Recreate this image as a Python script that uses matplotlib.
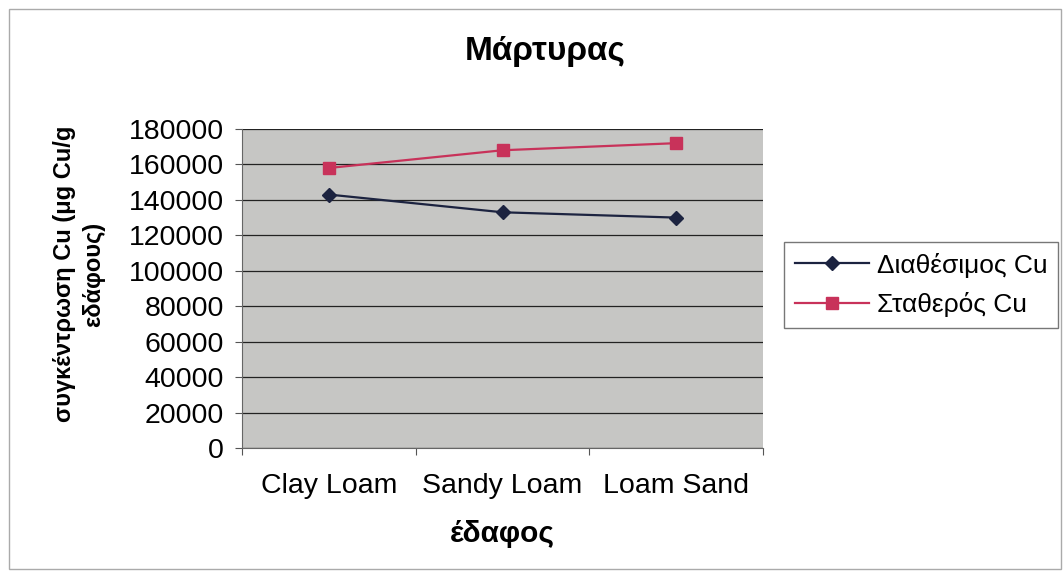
import matplotlib
matplotlib.use("Agg")
import matplotlib.pyplot as plt
from matplotlib.patches import Rectangle

plt.rcParams['font.family'] = ['Liberation Sans', 'DejaVu Sans']

# data
soil_types = ["Clay Loam", "Sandy Loam", "Loam Sand"]
available_cu = [143000, 133000, 130000]
stable_cu = [158000, 168000, 172000]
y_ticks = [0, 20000, 40000, 60000, 80000, 100000, 120000, 140000, 160000, 180000]

fig = plt.figure(figsize=(10.63, 5.72), dpi=100)
ax = fig.add_axes([0.2277, 0.2168, 0.4901, 0.5577])
ax.set_facecolor("#c6c6c4")

x = [i + 0.5 for i in range(len(soil_types))]
ax.plot(x, available_cu, color="#1c2340", marker="D", markersize=7, lw=1.6,
        label="Διαθέσιμος Cu")
ax.plot(x, stable_cu, color="#c8325a", marker="s", markersize=8, lw=1.6,
        label="Σταθερός Cu")

ax.set_xlim(0, 3)
ax.set_ylim(0, 180000)
ax.set_yticks(y_ticks)
ax.set_yticklabels([str(v) for v in y_ticks], fontsize=20.5)
ax.set_xticks([0, 1, 2, 3])
ax.set_xticklabels([])
ax.set_xticks(x, minor=True)
ax.set_xticklabels(soil_types, minor=True, fontsize=20.5)
ax.tick_params(axis="x", which="minor", length=0, pad=18)
ax.tick_params(axis="x", which="major", length=5, color="#555555")
ax.tick_params(axis="y", length=5, color="#555555", pad=8)
ax.grid(axis="y", color="#222222", lw=0.9)
ax.set_axisbelow(True)
for s in ["top", "right"]:
    ax.spines[s].set_visible(False)
for s in ["left", "bottom"]:
    ax.spines[s].set_color("#666666")

ax.set_xlabel("έδαφος", fontsize=21.5, fontweight="bold", labelpad=15)
ax.set_ylabel("συγκέντρωση Cu (μg Cu/g\nεδάφους)", fontsize=17,
              fontweight="bold", linespacing=1.35)
ax.yaxis.set_label_coords(-0.263, 0.545)
fig.text(0.513, 0.91, "Μάρτυρας", ha="center", va="center",
         fontsize=24, fontweight="bold")

leg = fig.legend(loc="center left", bbox_to_anchor=(0.738, 0.502),
                 fontsize=19, frameon=True, fancybox=False,
                 handlelength=2.8, handletextpad=0.3, borderpad=0.4,
                 borderaxespad=0.0, labelspacing=0.55)
leg.get_frame().set_edgecolor("#555555")
leg.get_frame().set_linewidth(1.0)

fig.patches.append(Rectangle((0.008, 0.005), 0.99, 0.98, transform=fig.transFigure,
                             fill=False, edgecolor="#aaaaaa", lw=1.0))

fig.savefig("out.png", dpi=100)
